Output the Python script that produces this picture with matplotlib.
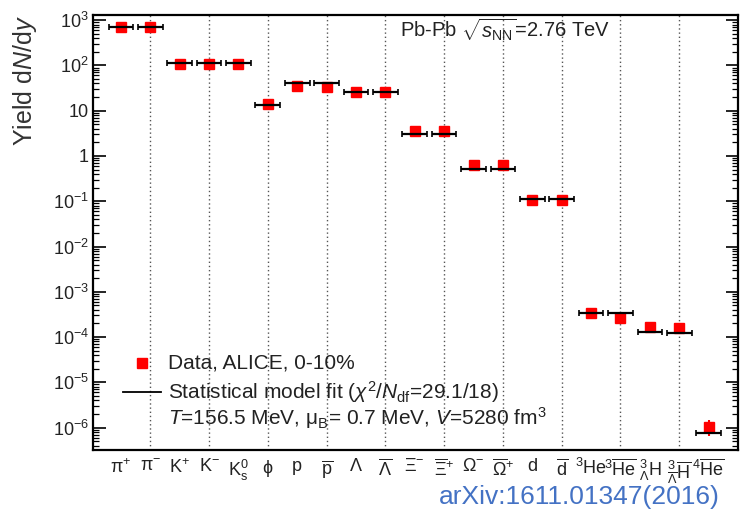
import numpy as np
import matplotlib
matplotlib.use("Agg")
import matplotlib.pyplot as plt
from matplotlib.ticker import FixedLocator, FixedFormatter, LogLocator, NullFormatter

plt.rcParams['font.family'] = ['Liberation Sans', 'DejaVu Sans']
plt.rcParams['mathtext.fontset'] = 'custom'
plt.rcParams['mathtext.rm'] = 'Liberation Sans'
plt.rcParams['mathtext.it'] = 'Liberation Sans:italic'
plt.rcParams['mathtext.bf'] = 'Liberation Sans:bold'

# particle species (x axis)
particles = [r'$\mathrm{\pi}^{+}$', r'$\mathrm{\pi}^{-}$', r'K$^{+}$', r'K$^{-}$', r'K$^{0}_{\rm s}$',
             r'$\mathrm{\phi}$', 'p', r'$\overline{\rm p}$', r'$\Lambda$', r'$\overline{\Lambda}$',
             r'$\Xi^{-}$', r'$\overline{\Xi}^{+}$', r'$\Omega^{-}$', r'$\overline{\Omega}^{+}$',
             'd', r'$\overline{\rm d}$', r'${}^{3}$He', r'${}^{3}\overline{\rm He}$',
             r'${}^{3}_{\Lambda}$H', r'${}^{3}_{\overline{\Lambda}}\overline{\rm H}$',
             r'${}^{4}\overline{\rm He}$']

# ALICE 0-10% yields
data_yield = [700, 700, 110, 110, 110, 14, 35, 33, 26, 26,
              3.6, 3.6, 0.64, 0.64, 0.105, 0.105,
              3.4e-4, 2.7e-4, 1.65e-4, 1.55e-4, 1.05e-6]
data_err = [20, 20, 4, 4, 4, 0.8, 1.5, 1.5, 1.2, 1.2,
            0.15, 0.15, 0.04, 0.04, 0.006, 0.006,
            0.3e-4, 0.5e-4, 0.25e-4, 0.25e-4, 0.4e-6]

# statistical model fit
model_yield = [700, 700, 112, 112, 112, 13.5, 41, 41, 26, 26,
               3.0, 3.0, 0.51, 0.51, 0.11, 0.11,
               3.4e-4, 3.4e-4, 1.3e-4, 1.25e-4, 7.6e-7]

ytick_vals = [1e-6, 1e-5, 1e-4, 1e-3, 1e-2, 1e-1, 1, 10, 1e2, 1e3]
ytick_labs = [r'$10^{-6}$', r'$10^{-5}$', r'$10^{-4}$', r'$10^{-3}$', r'$10^{-2}$',
              r'$10^{-1}$', '1', '10', r'$10^{2}$', r'$10^{3}$']

fig = plt.figure(figsize=(7.4, 5.13), dpi=100)
ax = fig.add_axes([93/740, 1 - 450/513, 645/740, 435/513])

x = np.arange(len(particles))

# dotted vertical guides
for xv in x[1::2]:
    ax.axvline(xv, color='#555555', ls=(0, (1, 2)), lw=1.0, zorder=0)

ax.errorbar(x, data_yield, yerr=data_err, fmt='s', color='red', ms=7.5,
            mec='red', elinewidth=1.5, capsize=0, zorder=2)
ax.errorbar(x, model_yield, xerr=0.42, fmt='none', ecolor='black',
            elinewidth=1.6, capsize=2.5, capthick=1.2, zorder=3)

ax.set_yscale('log')
ax.set_ylim(3.2e-7, 1.3e3)
ax.set_xlim(-0.95, 21.0)

ax.yaxis.set_major_locator(FixedLocator(ytick_vals))
ax.yaxis.set_major_formatter(FixedFormatter(ytick_labs))
ax.yaxis.set_minor_locator(LogLocator(base=10, subs=np.arange(2, 10), numticks=20))
ax.yaxis.set_minor_formatter(NullFormatter())
ax.tick_params(axis='y', which='major', direction='in', length=9, width=1.2,
               right=True, labelsize=13, pad=3, labelcolor='#222222')
ax.tick_params(axis='y', which='minor', direction='in', length=4.5, width=0.9, right=True)

ax.set_xticks(x)
ax.set_xticklabels(particles)
ax.tick_params(axis='x', length=0, labelsize=13, pad=6, labelcolor='#222222')

for s in ax.spines.values():
    s.set_linewidth(1.6)

fig.text(0.034, 0.97, r'Yield d$N$/d$y$', rotation=90, ha='center', va='top',
         fontsize=18, color='#333333')

ax.text(0.476, 0.966, r'Pb-Pb $\sqrt{s_{\rm NN}}$=2.76 TeV', transform=ax.transAxes,
        ha='left', va='center', fontsize=14.5, color='#222222')

# legend block
ax.plot([0.076], [0.2], 's', color='red', ms=7.5, transform=ax.transAxes)
ax.plot([0.047, 0.105], [0.133, 0.133], '-', color='black', lw=1.3, transform=ax.transAxes)
ax.text(0.116, 0.2, 'Data, ALICE, 0-10%', transform=ax.transAxes,
        va='center', fontsize=15, color='#222222')
ax.text(0.116, 0.133, r'Statistical model fit ($\chi^{2}/N_{\rm df}$=29.1/18)',
        transform=ax.transAxes, va='center', fontsize=15, color='#222222')
ax.text(0.116, 0.074, r'$T$=156.5 MeV, $\mathrm{\mu}_{\rm B}$= 0.7 MeV, $V$=5280 fm$^{3}$',
        transform=ax.transAxes, va='center', fontsize=15, color='#222222')

fig.text(0.973, 0.031, 'arXiv:1611.01347(2016)', ha='right', va='center',
         fontsize=19, color='#4472C4')

fig.savefig('out.png', dpi=100)
